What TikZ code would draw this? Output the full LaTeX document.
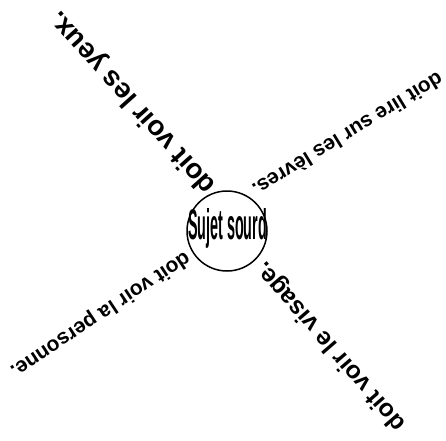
\documentclass[tikz,border=0pt]{standalone}
\usepackage{fontspec}
\setmainfont{Liberation Sans}
\usepackage{graphicx}
\begin{document}
\begin{tikzpicture}[x=1pt,y=-1pt,
  lbl/.style={inner sep=0pt, font=\bfseries},
  ring/.style={circle, draw, line width=1.5pt, minimum size=80pt, inner sep=0pt}]
\useasboundingbox (0,0) rectangle (446,440);
\node[ring] (c) at (227,231) {};
\node[lbl] (t) at (227.5,228) {\resizebox{79pt}{31pt}{\bfseries Sujet sourd}};
\node[lbl, rotate=131.9] (a) at (133,102) {\resizebox{235pt}{!}{doit voir les yeux.}};
\node[lbl, rotate=211.4] (b) at (348,135) {\resizebox{219pt}{!}{doit lire sur les lèvres.}};
\node[lbl, rotate=213.6] (d) at (100,314) {\resizebox{211pt}{!}{doit voir la personne.}};
\node[lbl, rotate=130.8] (e) at (331,346) {\resizebox{215pt}{!}{doit voir le visage.}};
\end{tikzpicture}
\end{document}
